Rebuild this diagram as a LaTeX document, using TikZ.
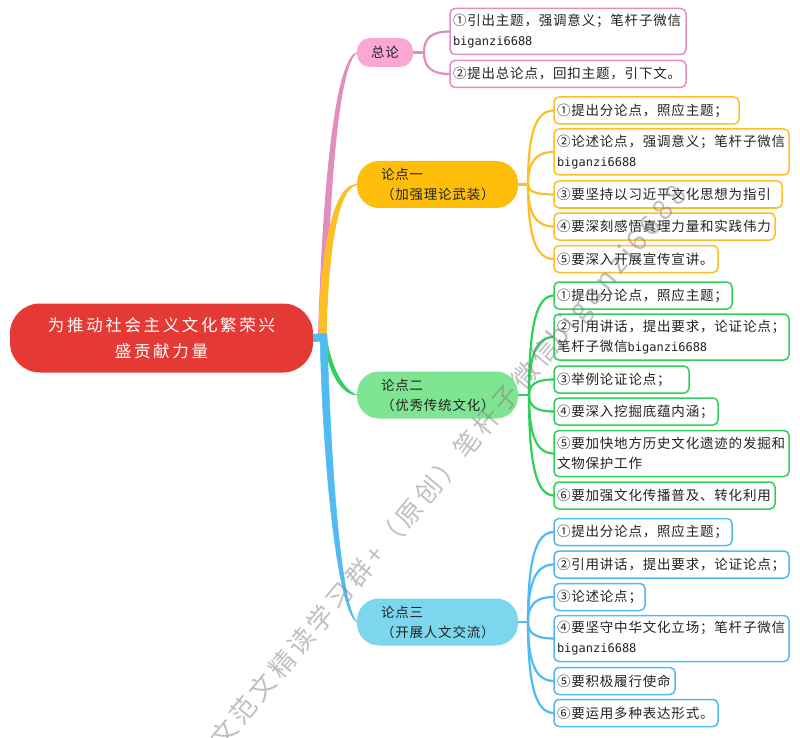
\documentclass[tikz,border=0pt]{standalone}
\usepackage{fontspec}
\usepackage{tikz}
\usetikzlibrary{calc}
\setmainfont{Noto Sans CJK SC}
\newfontfamily\leaffont[LetterSpace=6]{Noto Sans CJK SC}
\newfontfamily\rootfont[LetterSpace=16]{Noto Sans CJK SC}
\newfontfamily\markfont[LetterSpace=15.3]{Noto Sans CJK SC}
\newfontfamily\idfont{DejaVu Sans Mono}
\newcommand{\wechat}{{\fontsize{12}{20}\idfont biganzi6688}}
\definecolor{inkc}{HTML}{222222}
\definecolor{rootc}{HTML}{E53935}
\definecolor{pinkc}{HTML}{FBA7D3}
\definecolor{pinkl}{HTML}{E38DBE}
\definecolor{yellowc}{HTML}{FFBE0A}
\definecolor{yellowl}{HTML}{FDBF26}
\definecolor{greenc}{HTML}{80E592}
\definecolor{greenl}{HTML}{30D05A}
\definecolor{bluec}{HTML}{7CD6EE}
\definecolor{bluel}{HTML}{4FBBF2}
\tikzstyle{root} = [rounded corners=30pt, fill=rootc, text=white, outer sep=0pt, inner sep=0pt, minimum width=303pt, minimum height=69pt, align=center, font=\fontsize{16.5}{26}\rootfont]
\tikzstyle{topic} = [rounded corners=22pt, text=inkc, outer sep=0pt, inner xsep=24pt, inner ysep=0pt, anchor=west, text width=113pt, minimum height=47pt, align=left, font=\fontsize{13.5}{20}\leaffont]
\tikzstyle{leaf} = [draw, rounded corners=5pt, line width=1.5pt, fill=white, text=inkc, outer sep=0pt, inner xsep=3pt, inner ysep=0pt, anchor=west, minimum height=27pt, align=left, font=\fontsize{13.5}{20}\leaffont]
\tikzstyle{two} = [minimum height=46pt]
\tikzstyle{link} = [line width=2.2pt]

\begin{document}
\begin{tikzpicture}[x=1pt, y=-1pt]
    \useasboundingbox (0,0) rectangle (800,738);
    \node (root) [root] at (161.5,338) {为推动社会主义文化繁荣兴\\盛贡献力量};

    \node (t0) [topic, fill=pinkc, rounded corners=13pt, inner xsep=0pt, text width=56pt, minimum height=29pt, align=center] at (357,52.5) {总论};
    \node (t1) [topic, fill=yellowc] at (357,184.5) {论点一\\（加强理论武装）};
    \node (t2) [topic, fill=greenc] at (357,395) {论点二\\（优秀传统文化）};
    \node (t3) [topic, fill=bluec] at (357,622) {论点三\\（开展人文交流）};

    \node (a1) [leaf, two, draw=pinkl, text width=230pt] at (450,31.5) {①引出主题，强调意义；笔杆子微信\\\wechat};
    \node (a2) [leaf, draw=pinkl, text width=230pt] at (450,74) {②提出总论点，回扣主题，引下文。};

    \node (b1) [leaf, draw=yellowl, text width=179pt] at (554,110.5) {①提出分论点，照应主题；};
    \node (b2) [leaf, two, draw=yellowl, text width=229pt] at (554,152) {②论述论点，强调意义；笔杆子微信\\\wechat};
    \node (b3) [leaf, draw=yellowl, text width=222pt] at (554,194.5) {③要坚持以习近平文化思想为指引};
    \node (b4) [leaf, draw=yellowl, text width=215pt] at (554,226.5) {④要深刻感悟真理力量和实践伟力};
    \node (b5) [leaf, draw=yellowl, text width=158pt] at (554,259) {⑤要深入开展宣传宣讲。};

    \node (c1) [leaf, draw=greenl, text width=172pt] at (554,295.5) {①提出分论点，照应主题；};
    \node (c2) [leaf, two, draw=greenl, text width=229pt] at (554,337) {②引用讲话，提出要求，论证论点；\\笔杆子微信\wechat};
    \node (c3) [leaf, draw=greenl, text width=129pt] at (554,379.5) {③举例论证论点；};
    \node (c4) [leaf, draw=greenl, text width=158pt] at (554,411.5) {④要深入挖掘底蕴内涵；};
    \node (c5) [leaf, two, draw=greenl, text width=229pt] at (554,453.5) {⑤要加快地方历史文化遗迹的发掘和\\文物保护工作};
    \node (c6) [leaf, draw=greenl, text width=215pt] at (554,495.5) {⑥要加强文化传播普及、转化利用};

    \node (d1) [leaf, draw=bluel, text width=172pt] at (554,532) {①提出分论点，照应主题；};
    \node (d2) [leaf, draw=bluel, text width=229pt] at (554,564.5) {②引用讲话，提出要求，论证论点；};
    \node (d3) [leaf, draw=bluel, text width=85pt] at (554,597) {③论述论点；};
    \node (d4) [leaf, two, draw=bluel, text width=229pt] at (554,638.5) {④要坚守中华文化立场；笔杆子微信\\\wechat};
    \node (d5) [leaf, draw=bluel, text width=115pt] at (554,681) {⑤要积极履行使命};
    \node (d6) [leaf, draw=bluel, text width=158pt] at (554,713) {⑥要运用多种表达形式。};

    % tapered main branches
    \draw [draw=pinkl, fill=pinkl, line width=1pt] (318.5,337) .. controls (323.5,170) and (337,59) .. (t0.west) .. controls (340,62) and (329,172) .. (325.5,337) -- cycle;
    \draw [draw=yellowl, fill=yellowl, line width=1pt] (319,337) .. controls (320.5,248) and (334,184) .. (t1.west) .. controls (337,188) and (328,252) .. (326,337) -- cycle;
    \draw [draw=greenl, fill=greenl, line width=.5pt] (325,340) .. controls (327,372) and (342,395) .. (t2.west) .. controls (342,390) and (331,365) .. (327,340) -- cycle;
    \draw [draw=bluel, fill=bluel, line width=.5pt] (320,335) .. controls (323,470) and (338,612) .. (t3.west) .. controls (341,606) and (331,470) .. (327,335) -- cycle;
    \coordinate (stub) at (327,337);
    \draw [bluel, line width=8pt] (root.east) -- (stub);

    % leaf connectors
    \coordinate (hub0) at ($(t0.east)+(11,0)$);
    \coordinate (hub1) at ($(t1.east)+(10,0)$);
    \coordinate (hub2) at ($(t2.east)+(11,0)$);
    \coordinate (hub3) at ($(t3.east)+(10,0)$);
    \draw [link, pinkl] (t0.east) -- (hub0);
    \draw [link, yellowl] (t1.east) -- (hub1);
    \draw [link, greenl] (t2.east) -- (hub2);
    \draw [link, bluel] (t3.east) -- (hub3);
    \foreach \l in {a1,a2}
        \draw [link, pinkl] (hub0) .. controls ($(hub0)!.7!(hub0 |- \l.west)$) and ($(\l.west)!.7!(hub0 |- \l.west)$) .. (\l.west);
    \foreach \l in {b1,b2,b3,b4,b5}
        \draw [link, yellowl] (hub1) .. controls ($(hub1)!.7!(hub1 |- \l.west)$) and ($(\l.west)!.7!(hub1 |- \l.west)$) .. (\l.west);
    \foreach \l in {c1,c2,c3,c4,c5,c6}
        \draw [link, greenl] (hub2) .. controls ($(hub2)!.7!(hub2 |- \l.west)$) and ($(\l.west)!.7!(hub2 |- \l.west)$) .. (\l.west);
    \foreach \l in {d1,d2,d3,d4,d5,d6}
        \draw [link, bluel] (hub3) .. controls ($(hub3)!.7!(hub3 |- \l.west)$) and ($(\l.west)!.7!(hub3 |- \l.west)$) .. (\l.west);

    \node (mark) [rotate=50, anchor=west, inner sep=0pt, text=gray, text opacity=.5, font=\fontsize{26}{26}\markfont] at (198,768) {作文范文精读学习群+（原创）笔杆子微信{\fontsize{28}{28}\selectfont biganzi6688}};
\end{tikzpicture}
\end{document}
